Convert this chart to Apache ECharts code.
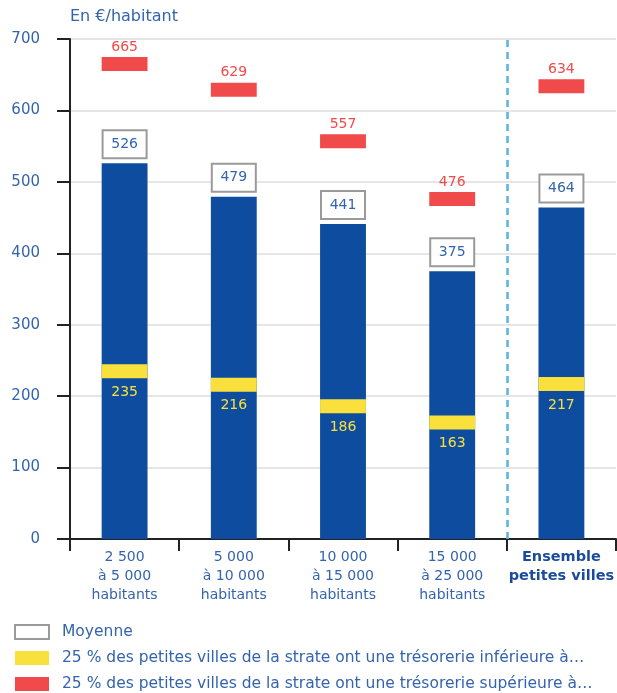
<!DOCTYPE html>
<html>
<head>
<meta charset="utf-8">
<script src="https://cdn.jsdelivr.net/npm/echarts@6/dist/echarts.min.js"></script>
<style>
  html, body { margin: 0; padding: 0; background: #fff; }
  #main { width: 617px; height: 693px; }
</style>
</head>
<body>
<div id="main"></div>
<script>
// strates de population
var categories = [
  '2 500\nà 5 000\nhabitants',
  '5 000\nà 10 000\nhabitants',
  '10 000\nà 15 000\nhabitants',
  '15 000\nà 25 000\nhabitants',
  'Ensemble\npetites villes'
];
var moyenne = [526, 479, 441, 375, 464];
var quartileBas = [235, 216, 186, 163, 217];
var quartileHaut = [665, 629, 557, 476, 634];
var yTicks = [0, 100, 200, 300, 400, 500, 600, 700];

var BLUE = '#0d4c9f';
var YELLOW = '#f9e03c';
var RED = '#f14a4a';
var TEXT = '#3464ae';
var FONT = 'DejaVu Sans';

var chartDom = document.getElementById('main');
var myChart = echarts.init(chartDom);
var option;

// bande horizontale de 14px centrée sur la valeur, étiquette au-dessus ou en dessous
function bandRenderer(color, labelColor, above) {
  return function (params, api) {
    var c = api.coord([api.value(0), api.value(1)]);
    var w = api.size([1, 0])[0] * 0.42;
    var h = 14;
    return {
      type: 'group',
      children: [
        {
          type: 'rect',
          shape: { x: c[0] - w / 2, y: c[1] - h / 2, width: w, height: h },
          style: { fill: color }
        },
        {
          type: 'text',
          x: c[0],
          y: above ? c[1] - h / 2 - 3 : c[1] + h / 2 + 7,
          style: {
            text: String(api.value(1)),
            fill: labelColor,
            font: '14px "' + FONT + '"',
            align: 'center',
            verticalAlign: above ? 'bottom' : 'top'
          }
        }
      ]
    };
  };
}

option = {
  animation: false,
  textStyle: { fontFamily: FONT },
  grid: { left: 70, right: 0, top: 39, bottom: 154 },
  legend: {
    orient: 'vertical',
    left: 14,
    top: 624,
    padding: 0,
    icon: 'rect',
    itemWidth: 34,
    itemHeight: 14,
    itemGap: 10,
    selectedMode: false,
    textStyle: { color: TEXT, fontSize: 15.5, padding: [0, 0, 0, 8] },
    data: [
      { name: 'Moyenne', itemStyle: { color: '#fff', borderColor: '#9a9a9a', borderWidth: 2 } },
      { name: '25 % des petites villes de la strate ont une trésorerie inférieure à…' },
      { name: '25 % des petites villes de la strate ont une trésorerie supérieure à…' }
    ]
  },
  xAxis: [
    {
      type: 'category',
      data: categories,
      axisLine: { lineStyle: { color: '#222', width: 2 } },
      axisTick: { show: true, length: 12, lineStyle: { color: '#222', width: 2 } },
      axisLabel: {
        interval: 0,
        color: TEXT,
        fontSize: 14,
        lineHeight: 19,
        margin: 9,
        formatter: function (v, i) {
          return i === categories.length - 1 ? '{b|' + v.split('\n').join('}\n{b|') + '}' : v;
        },
        rich: { b: { fontWeight: 'bold', color: '#1b4c9c', fontSize: 14.5, lineHeight: 19 } }
      }
    },
    { type: 'value', min: 0, max: 5, show: false }
  ],
  yAxis: {
    type: 'value',
    min: yTicks[0],
    max: yTicks[yTicks.length - 1],
    interval: 100,
    name: 'En €/habitant',
    nameLocation: 'end',
    nameGap: 14,
    nameTextStyle: { color: TEXT, fontSize: 16, align: 'left' },
    axisLine: { show: true, lineStyle: { color: '#222', width: 2 } },
    axisTick: { show: true, length: 13, lineStyle: { color: '#222', width: 2 } },
    axisLabel: { color: TEXT, fontSize: 15, margin: 30 },
    splitLine: { lineStyle: { color: '#dedede', width: 1.5 } }
  },
  series: [
    {
      name: 'Moyenne',
      type: 'bar',
      data: moyenne,
      barWidth: '42%',
      itemStyle: { color: BLUE },
      label: {
        show: true,
        position: 'top',
        distance: 6,
        color: TEXT,
        fontSize: 14,
        lineHeight: 18,
        width: 40,
        align: 'center',
        backgroundColor: '#fff',
        borderColor: '#9a9a9a',
        borderWidth: 2,
        padding: [4, 1]
      }
    },
    {
      name: '25 % des petites villes de la strate ont une trésorerie inférieure à…',
      type: 'custom',
      itemStyle: { color: YELLOW },
      renderItem: bandRenderer(YELLOW, YELLOW, false),
      encode: { x: 0, y: 1 },
      data: quartileBas.map(function (v, i) { return [i, v]; }),
      z: 3
    },
    {
      name: '25 % des petites villes de la strate ont une trésorerie supérieure à…',
      type: 'custom',
      itemStyle: { color: RED },
      renderItem: bandRenderer(RED, RED, true),
      encode: { x: 0, y: 1 },
      data: quartileHaut.map(function (v, i) { return [i, v]; }),
      z: 3
    },
    {
      type: 'line',
      xAxisIndex: 1,
      data: [],
      markLine: {
        silent: true,
        symbol: 'none',
        label: { show: false },
        lineStyle: { color: '#5ab3e2', width: 2.5, type: [7, 5] },
        data: [{ xAxis: 4 }]
      }
    }
  ]
};

option && myChart.setOption(option);
</script>
</body>
</html>
